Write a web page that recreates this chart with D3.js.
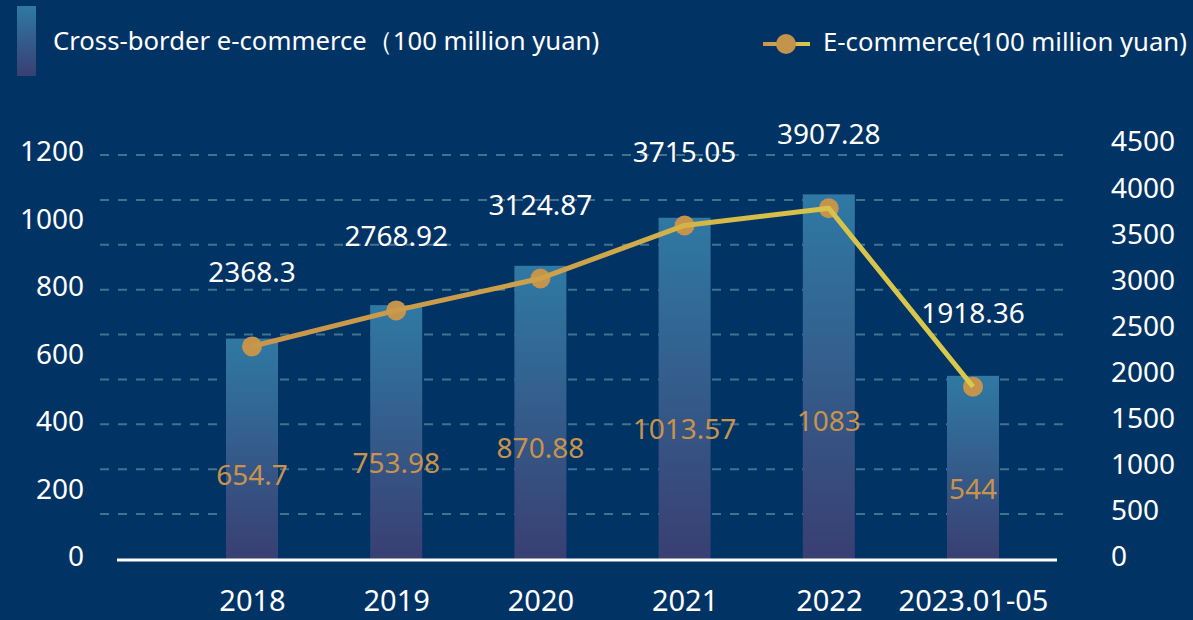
<!DOCTYPE html>
<html>
<head>
<meta charset="utf-8">
<script src="https://cdn.jsdelivr.net/npm/d3@7"></script>
<style>
  body { margin: 0; background: #023365; }
  svg { display: block; font-family: "Noto Sans", sans-serif; }
</style>
</head>
<body>
<div id="chart"></div>
<script>
// data
const years = ["2018", "2019", "2020", "2021", "2022", "2023.01-05"];
const crossBorder = [654.7, 753.98, 870.88, 1013.57, 1083, 544];
const eCommerce = [2368.3, 2768.92, 3124.87, 3715.05, 3907.28, 1918.36];
const leftTicks = [0, 200, 400, 600, 800, 1000, 1200];
const rightTicks = [0, 500, 1000, 1500, 2000, 2500, 3000, 3500, 4000, 4500];
const barName = "Cross-border e-commerce（100 million yuan)";
const lineName = "E-commerce(100 million yuan)";

const width = 1193;
const height = 620;

const svg = d3.select("#chart")
    .append("svg")
    .attr("width", width)
    .attr("height", height);

svg.append("rect")
    .attr("width", width)
    .attr("height", height)
    .attr("fill", "#023365");

const defs = svg.append("defs");

// bar gradient, teal on top going into a dull violet
const barGrad = defs.append("linearGradient")
    .attr("id", "barGrad")
    .attr("x1", 0).attr("y1", 0).attr("x2", 0).attr("y2", 1);
barGrad.append("stop").attr("offset", "0%").attr("stop-color", "#2f79a4");
barGrad.append("stop").attr("offset", "100%").attr("stop-color", "#393f72");

// line gradient, orange on the left to yellow on the right
const lineGrad = defs.append("linearGradient")
    .attr("id", "lineGrad")
    .attr("gradientUnits", "userSpaceOnUse")
    .attr("x1", 252).attr("y1", 0).attr("x2", 973).attr("y2", 0);
lineGrad.append("stop").attr("offset", "0%").attr("stop-color", "#c9964b");
lineGrad.append("stop").attr("offset", "45%").attr("stop-color", "#cda24a");
lineGrad.append("stop").attr("offset", "70%").attr("stop-color", "#d6bf49");
lineGrad.append("stop").attr("offset", "100%").attr("stop-color", "#d9ca4a");

const legGrad = defs.append("linearGradient")
    .attr("id", "legGrad")
    .attr("gradientUnits", "userSpaceOnUse")
    .attr("x1", 763).attr("y1", 0).attr("x2", 810).attr("y2", 0);
legGrad.append("stop").attr("offset", "0%").attr("stop-color", "#c9964b");
legGrad.append("stop").attr("offset", "100%").attr("stop-color", "#d9ca4a");

// scales
const x = d3.scalePoint().domain(years).range([252, 973]);
const yLeft = d3.scaleLinear().domain([0, 1200]).range([559, 155]);
const yRight = d3.scaleLinear().domain([0, 4500]).range([559, 155]);
// the tick labels sit a little off the grid in the original
const yLeftLabel = yLeft.copy().range([557, 152]);
const yRightLabel = yRight.copy().range([557, 142]);

// dashed grid lines (follow the right axis)
svg.append("g")
    .selectAll("line")
    .data(rightTicks.filter(d => d > 0))
    .join("line")
    .attr("x1", 100)
    .attr("x2", 1072)
    .attr("y1", d => yRight(d))
    .attr("y2", d => yRight(d))
    .attr("stroke", "#3f7390")
    .attr("stroke-width", 2)
    .attr("stroke-dasharray", "9,9");

// bars
const barW = 52;
svg.append("g")
    .selectAll("rect")
    .data(crossBorder)
    .join("rect")
    .attr("x", (d, i) => x(years[i]) - barW / 2)
    .attr("y", d => yLeft(d))
    .attr("width", barW)
    .attr("height", d => yLeft(0) - yLeft(d))
    .attr("fill", "url(#barGrad)");

// baseline
svg.append("line")
    .attr("x1", 117)
    .attr("x2", 1057)
    .attr("y1", 560)
    .attr("y2", 560)
    .attr("stroke", "#ffffff")
    .attr("stroke-width", 3);

// bar value labels
svg.append("g")
    .selectAll("text")
    .data(crossBorder)
    .join("text")
    .attr("x", (d, i) => x(years[i]))
    .attr("y", d => yLeft(d * 0.38))
    .attr("dy", "0.36em")
    .attr("text-anchor", "middle")
    .attr("fill", "#c8934c")
    .attr("font-size", 28)
    .text(d => d);

// e-commerce line
const lineGen = d3.line()
    .x((d, i) => x(years[i]))
    .y(d => yRight(d));

svg.append("g")
    .selectAll("circle")
    .data(eCommerce)
    .join("circle")
    .attr("cx", (d, i) => x(years[i]))
    .attr("cy", d => yRight(d))
    .attr("r", 10)
    .attr("fill", "#c4944c");

svg.append("path")
    .datum(eCommerce)
    .attr("fill", "none")
    .attr("stroke", "url(#lineGrad)")
    .attr("stroke-width", 5)
    .attr("stroke-linejoin", "round")
    .attr("d", lineGen);

// line value labels
svg.append("g")
    .selectAll("text")
    .data(eCommerce)
    .join("text")
    .attr("x", (d, i) => x(years[i]))
    .attr("y", d => yRight(d) - 74)
    .attr("dy", "0.36em")
    .attr("text-anchor", "middle")
    .attr("fill", "#ffffff")
    .attr("font-size", 28)
    .text(d => d);

// axes
function styleAxis(g, size) {
    g.select(".domain").remove();
    g.selectAll("text")
        .attr("fill", "#ffffff")
        .attr("font-size", size)
        .attr("font-family", "Noto Sans, sans-serif");
}

svg.append("g")
    .attr("transform", "translate(84,0)")
    .call(d3.axisLeft(yLeftLabel).tickValues(leftTicks).tickFormat(d3.format("d")).tickSize(0).tickPadding(0))
    .call(styleAxis, 28);

svg.append("g")
    .attr("transform", "translate(1111,0)")
    .call(d3.axisRight(yRightLabel).tickValues(rightTicks).tickFormat(d3.format("d")).tickSize(0).tickPadding(0))
    .call(styleAxis, 28);

svg.append("g")
    .attr("transform", "translate(0,559)")
    .call(d3.axisBottom(x).tickSize(0).tickPadding(31))
    .call(styleAxis, 29);

// legends
svg.append("rect")
    .attr("x", 17)
    .attr("y", 6)
    .attr("width", 19)
    .attr("height", 70)
    .attr("fill", "url(#barGrad)");

svg.append("text")
    .attr("x", 53)
    .attr("y", 41)
    .attr("dy", "0.36em")
    .attr("fill", "#ffffff")
    .attr("font-size", 25.7)
    .text(barName);

svg.append("line")
    .attr("x1", 763)
    .attr("x2", 810)
    .attr("y1", 44)
    .attr("y2", 44)
    .attr("stroke", "url(#legGrad)")
    .attr("stroke-width", 4);

svg.append("circle")
    .attr("cx", 786)
    .attr("cy", 44)
    .attr("r", 10)
    .attr("fill", "#c4944c");

svg.append("text")
    .attr("x", 823)
    .attr("y", 42)
    .attr("dy", "0.36em")
    .attr("fill", "#ffffff")
    .attr("font-size", 25.7)
    .text(lineName);
</script>
</body>
</html>
